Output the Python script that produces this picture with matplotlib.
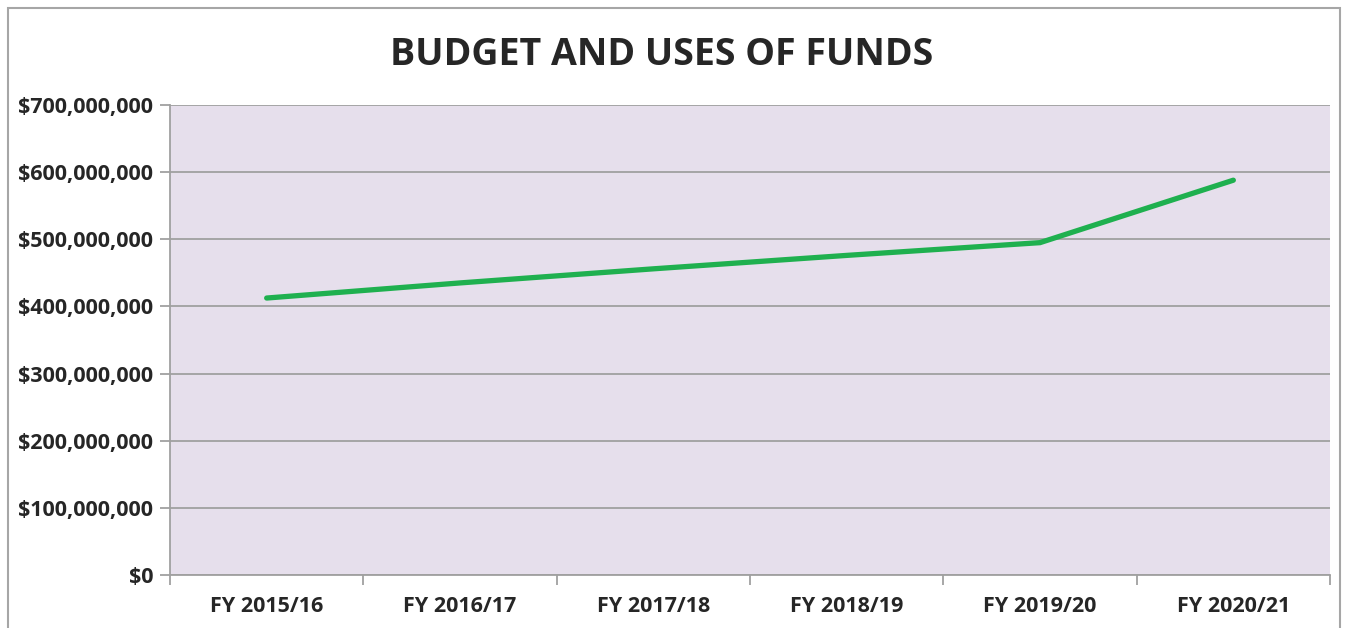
import matplotlib
matplotlib.use("Agg")
import matplotlib.pyplot as plt
from matplotlib.ticker import FuncFormatter, FixedLocator
from matplotlib.patches import Rectangle

categories = ["FY 2015/16", "FY 2016/17", "FY 2017/18", "FY 2018/19", "FY 2019/20", "FY 2020/21"]
values = [412_500_000, 435_000_000, 456_000_000, 476_000_000, 495_000_000, 588_000_000]
yticks = [0, 100_000_000, 200_000_000, 300_000_000, 400_000_000, 500_000_000, 600_000_000, 700_000_000]

plt.rcParams['font.family'] = ['Open Sans', 'DejaVu Sans']

W, H, DPI = 1345, 628, 100
fig = plt.figure(figsize=(W / DPI, H / DPI), dpi=DPI)
fig.patch.set_facecolor("white")

# outer chart border
fig.patches.append(Rectangle((8 / W, -0.05), (1340 - 8) / W, 1.05 - 8 / H,
                             transform=fig.transFigure, fill=False,
                             edgecolor="#A6A6A6", linewidth=1.5))

left, right, top, bottom = 170, 1330, 105, 575
ax = fig.add_axes([left / W, 1 - bottom / H, (right - left) / W, (bottom - top) / H])
ax.set_facecolor("#E6DFEC")

x = list(range(len(categories)))
ax.plot(x, values, color="#1FB04F", linewidth=3.8, solid_capstyle="round",
        solid_joinstyle="miter", zorder=3)

ax.set_xlim(-0.5, len(categories) - 0.5)
ax.set_ylim(0, 700_000_000)
ax.set_yticks(yticks)
ax.yaxis.set_major_formatter(FuncFormatter(lambda v, p: f"${v:,.0f}"))
ax.grid(axis="y", color="#A0A0A0", linewidth=1.3, zorder=1)
ax.set_axisbelow(True)

ax.xaxis.set_major_locator(FixedLocator([i - 0.5 for i in range(len(categories) + 1)]))
ax.xaxis.set_minor_locator(FixedLocator(x))
ax.set_xticklabels([])
ax.set_xticklabels(categories, minor=True)
ax.tick_params(axis="x", which="major", length=7, color="#A0A0A0", width=1.3, direction="out")
ax.tick_params(axis="x", which="minor", length=0, pad=15, labelsize=15.5)
ax.tick_params(axis="y", length=7, color="#A0A0A0", width=1.3, direction="out", labelsize=15.5, pad=5)
for lab in ax.get_xticklabels(minor=True) + ax.get_yticklabels():
    lab.set_fontweight("bold")
    lab.set_color("#262626")

for s in ["top", "right"]:
    ax.spines[s].set_visible(False)
for s in ["left", "bottom"]:
    ax.spines[s].set_color("#A0A0A0")
    ax.spines[s].set_linewidth(1.3)

fig.text(662 / W, 1 - 55 / H, "BUDGET AND USES OF FUNDS", ha="center", va="center",
         fontsize=27, fontweight="bold", color="#262626")

fig.savefig("out.png", dpi=DPI)
